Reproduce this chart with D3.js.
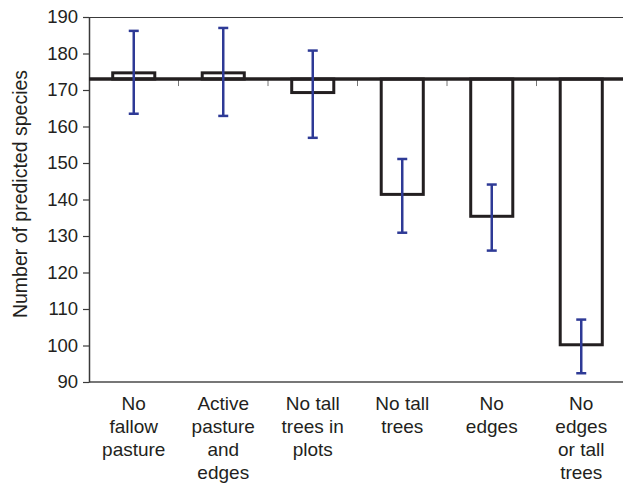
<!DOCTYPE html>
<html>
<head>
<meta charset="utf-8">
<script src="https://cdn.jsdelivr.net/npm/d3@7"></script>
<style>
  body { margin: 0; background: #fff; }
  svg { display: block; font-family: 'Liberation Sans', Arial, sans-serif; }
  .axis text { font-size: 18.5px; fill: #231f20; }
  .axis path, .axis line { stroke: #3a3a3a; }
  .cat-label { font-size: 19px; fill: #231f20; }
  .axis-title { font-size: 19.5px; fill: #231f20; }
</style>
</head>
<body>
<div id="chart"></div>
<script>
// Scenario names, split into the lines shown under the axis
const categories = ['nofallow', 'activepasture', 'notallplots', 'notall', 'noedges', 'noedgestall'];
const categoryLines = [
  ['No', 'fallow', 'pasture'],
  ['Active', 'pasture', 'and', 'edges'],
  ['No tall', 'trees in', 'plots'],
  ['No tall', 'trees'],
  ['No', 'edges'],
  ['No', 'edges', 'or tall', 'trees'],
];
// Predicted species per scenario, with error bar bounds
const predicted = [174.7, 174.7, 169.3, 141.4, 135.4, 100.2];
const errUpper = [186.2, 187.0, 180.8, 151.1, 144.1, 107.1];
const errLower = [163.5, 162.9, 156.9, 130.9, 126.0, 92.4];
// Reference level the bars hang from
const baseline = 173;
const yTicks = [90, 100, 110, 120, 130, 140, 150, 160, 170, 180, 190];

const config = {
  containerWidth: 623,
  containerHeight: 483,
  margin: { top: 17, right: -3, bottom: 101, left: 89 },
};

const width = config.containerWidth - config.margin.left - config.margin.right;
const height = config.containerHeight - config.margin.top - config.margin.bottom;

const svg = d3
  .select('#chart')
  .append('svg')
  .attr('width', config.containerWidth)
  .attr('height', config.containerHeight);

const chart = svg
  .append('g')
  .attr('transform', `translate(${config.margin.left},${config.margin.top})`);

const data = categories.map((c, i) => ({
  key: c,
  lines: categoryLines[i],
  value: predicted[i],
  hi: errUpper[i],
  lo: errLower[i],
}));

const x = d3.scaleBand().domain(categories).range([0, width]).padding(0);
const y = d3.scaleLinear().domain([90, 190]).range([height, 0]);
const barWidth = x.bandwidth() * 0.47;

// Plot frame: top and bottom lines
chart
  .append('line')
  .attr('x1', 0)
  .attr('x2', width)
  .attr('y1', 0.5)
  .attr('y2', 0.5)
  .attr('stroke', '#3a3a3a')
  .attr('stroke-width', 1.2);

chart
  .append('line')
  .attr('x1', 0)
  .attr('x2', width)
  .attr('y1', height)
  .attr('y2', height)
  .attr('stroke', '#4a4a4a')
  .attr('stroke-width', 1.5);

// Y axis
const yAxis = d3
  .axisLeft(y)
  .tickValues(yTicks)
  .tickSize(6)
  .tickSizeOuter(0)
  .tickPadding(5);

const yAxisG = chart.append('g').attr('class', 'axis').call(yAxis);
yAxisG.select('.domain').attr('stroke-width', 1.5);
yAxisG.selectAll('.tick line').attr('stroke-width', 1.2);

chart
  .append('text')
  .attr('class', 'axis-title')
  .attr('text-anchor', 'middle')
  .attr('transform', `translate(${27 - config.margin.left},${194 - config.margin.top}) rotate(-90)`)
  .text('Number of predicted species');

// Bars hang from the baseline
chart
  .selectAll('.bar')
  .data(data)
  .join('rect')
  .attr('class', 'bar')
  .attr('x', (d) => x(d.key) + (x.bandwidth() - barWidth) / 2)
  .attr('width', barWidth)
  .attr('y', (d) => Math.min(y(d.value), y(baseline)))
  .attr('height', (d) => Math.abs(y(d.value) - y(baseline)))
  .attr('fill', '#fff')
  .attr('stroke', '#231f20')
  .attr('stroke-width', 3);

// Category axis crossing at the baseline, with small ticks between groups
chart
  .selectAll('.cat-tick')
  .data(categories.slice(1))
  .join('line')
  .attr('class', 'cat-tick')
  .attr('x1', (d) => x(d))
  .attr('x2', (d) => x(d))
  .attr('y1', y(baseline))
  .attr('y2', y(baseline) + 7)
  .attr('stroke', '#777')
  .attr('stroke-width', 1);

chart
  .append('line')
  .attr('x1', 0)
  .attr('x2', width)
  .attr('y1', y(baseline))
  .attr('y2', y(baseline))
  .attr('stroke', '#231f20')
  .attr('stroke-width', 3.5);

// Error bars
const err = chart
  .selectAll('.err')
  .data(data)
  .join('g')
  .attr('class', 'err')
  .attr('transform', (d) => `translate(${x(d.key) + x.bandwidth() / 2},0)`)
  .attr('stroke', '#2e3a96');

err
  .append('line')
  .attr('y1', (d) => y(d.hi))
  .attr('y2', (d) => y(d.lo))
  .attr('stroke-width', 2.5);

err
  .selectAll('.cap')
  .data((d) => [d.hi, d.lo])
  .join('line')
  .attr('class', 'cap')
  .attr('x1', -5)
  .attr('x2', 5)
  .attr('y1', (v) => y(v))
  .attr('y2', (v) => y(v))
  .attr('stroke-width', 2.5);

// Category labels under the plot
const labels = chart
  .selectAll('.cat-label')
  .data(data)
  .join('text')
  .attr('class', 'cat-label')
  .attr('text-anchor', 'middle')
  .attr('transform', (d) => `translate(${x(d.key) + x.bandwidth() / 2},${height + 28})`);

labels
  .selectAll('tspan')
  .data((d) => d.lines)
  .join('tspan')
  .attr('x', 0)
  .attr('y', (l, i) => i * 23)
  .text((l) => l);
</script>
</body>
</html>
